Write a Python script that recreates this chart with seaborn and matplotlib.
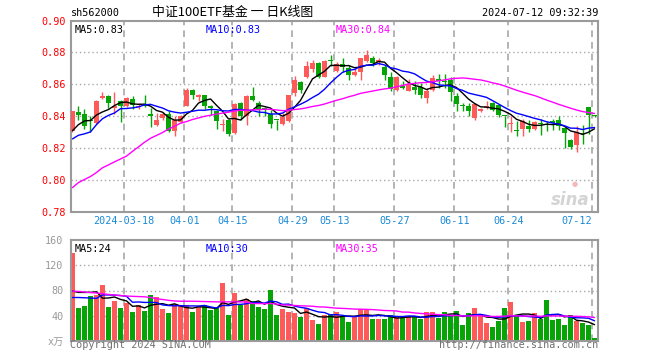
import numpy as np
import pandas as pd
import matplotlib
matplotlib.use("Agg")
import matplotlib.pyplot as plt
import seaborn as sns

# ---------------- data ----------------
open_ = [0.8308, 0.8425, 0.8413, 0.8375, 0.8354, 0.8510, 0.8527, 0.8450, 0.8492, 0.8463,
         0.8508, 0.8454, 0.8467, 0.8415, 0.8346, 0.8388, 0.8415, 0.8304, 0.8363, 0.8465,
         0.8565, 0.8517, 0.8533, 0.8460, 0.8429, 0.8344, 0.8377, 0.8296, 0.8483, 0.8398,
         0.8527, 0.8481, 0.8450, 0.8415, 0.8377, 0.8350, 0.8367, 0.8544, 0.8613, 0.8644,
         0.8696, 0.8731, 0.8646, 0.8748, 0.8683, 0.8727, 0.8704, 0.8658, 0.8679, 0.8746,
         0.8767, 0.8738, 0.8710, 0.8644, 0.8565, 0.8588, 0.8560, 0.8585, 0.8581, 0.8513,
         0.8565, 0.8633, 0.8623, 0.8627, 0.8527, 0.8467, 0.8465, 0.8388, 0.8429, 0.8450,
         0.8481, 0.8467, 0.8402, 0.8348, 0.8313, 0.8319, 0.8335, 0.8319, 0.8354, 0.8350,
         0.8369, 0.8373, 0.8325, 0.8252, 0.8217, 0.8290, 0.8458, 0.8404]
high = [0.8433, 0.8465, 0.8446, 0.8398, 0.8500, 0.8548, 0.8533, 0.8548, 0.8502, 0.8519,
        0.8523, 0.8481, 0.8529, 0.8450, 0.8419, 0.8423, 0.8429, 0.8402, 0.8408, 0.8579,
        0.8569, 0.8538, 0.8535, 0.8471, 0.8438, 0.8383, 0.8383, 0.8479, 0.8488, 0.8533,
        0.8583, 0.8492, 0.8458, 0.8440, 0.8377, 0.8417, 0.8533, 0.8654, 0.8621, 0.8748,
        0.8752, 0.8742, 0.8752, 0.8783, 0.8742, 0.8763, 0.8721, 0.8700, 0.8767, 0.8815,
        0.8777, 0.8763, 0.8721, 0.8675, 0.8650, 0.8621, 0.8631, 0.8621, 0.8610, 0.8579,
        0.8658, 0.8663, 0.8663, 0.8642, 0.8544, 0.8481, 0.8481, 0.8481, 0.8450, 0.8496,
        0.8488, 0.8475, 0.8402, 0.8402, 0.8367, 0.8383, 0.8377, 0.8367, 0.8383, 0.8371,
        0.8383, 0.8398, 0.8329, 0.8256, 0.8335, 0.8346, 0.8458, 0.8408]
low = [0.8300, 0.8377, 0.8321, 0.8298, 0.8350, 0.8506, 0.8450, 0.8414, 0.8360, 0.8454,
       0.8446, 0.8446, 0.8454, 0.8329, 0.8338, 0.8377, 0.8300, 0.8273, 0.8356, 0.8460,
       0.8506, 0.8492, 0.8444, 0.8408, 0.8321, 0.8308, 0.8273, 0.8288, 0.8377, 0.8346,
       0.8492, 0.8402, 0.8398, 0.8325, 0.8313, 0.8346, 0.8360, 0.8527, 0.8544, 0.8638,
       0.8679, 0.8638, 0.8642, 0.8717, 0.8679, 0.8679, 0.8629, 0.8654, 0.8627, 0.8742,
       0.8717, 0.8721, 0.8629, 0.8554, 0.8558, 0.8571, 0.8554, 0.8538, 0.8513, 0.8479,
       0.8558, 0.8575, 0.8579, 0.8492, 0.8429, 0.8429, 0.8398, 0.8373, 0.8423, 0.8446,
       0.8429, 0.8392, 0.8329, 0.8300, 0.8273, 0.8273, 0.8300, 0.8313, 0.8279, 0.8308,
       0.8310, 0.8315, 0.8200, 0.8192, 0.8175, 0.8221, 0.8288, 0.8396]
close = [0.8429, 0.8404, 0.8335, 0.8367, 0.8496, 0.8527, 0.8479, 0.8460, 0.8460, 0.8513,
         0.8469, 0.8465, 0.8465, 0.8398, 0.8377, 0.8415, 0.8304, 0.8377, 0.8402, 0.8565,
         0.8529, 0.8533, 0.8460, 0.8448, 0.8366, 0.8346, 0.8288, 0.8475, 0.8398, 0.8527,
         0.8498, 0.8440, 0.8435, 0.8350, 0.8373, 0.8396, 0.8529, 0.8627, 0.8565, 0.8715,
         0.8731, 0.8648, 0.8746, 0.8746, 0.8725, 0.8710, 0.8658, 0.8679, 0.8763, 0.8783,
         0.8735, 0.8752, 0.8658, 0.8571, 0.8646, 0.8575, 0.8602, 0.8565, 0.8529, 0.8560,
         0.8638, 0.8617, 0.8613, 0.8548, 0.8477, 0.8465, 0.8429, 0.8475, 0.8444, 0.8465,
         0.8435, 0.8404, 0.8400, 0.8350, 0.8308, 0.8367, 0.8317, 0.8363, 0.8352, 0.8344,
         0.8354, 0.8335, 0.8294, 0.8204, 0.8300, 0.8288, 0.8404, 0.8402]
volume = [139.3, 51.9, 55.1, 71.0, 72.6, 88.5, 53.5, 63.0, 51.9, 60.9,
          45.6, 56.7, 47.1, 72.6, 69.4, 50.3, 44.0, 58.3, 55.1, 56.7,
          45.6, 55.1, 56.7, 48.7, 51.9, 91.6, 40.8, 75.7, 57.7, 66.2,
          64.1, 53.5, 50.3, 80.5, 40.8, 50.3, 45.6, 44.0, 37.6, 51.9,
          32.8, 26.5, 40.8, 42.4, 45.6, 39.2, 29.7, 39.2, 50.3, 48.7,
          34.4, 34.4, 34.4, 40.8, 37.6, 37.6, 39.2, 37.6, 34.4, 45.6,
          45.6, 36.0, 45.6, 40.8, 47.1, 24.9, 44.0, 51.9, 40.8, 28.1,
          21.7, 31.3, 51.9, 61.4, 39.2, 29.7, 31.3, 44.0, 34.4, 64.6,
          32.8, 34.4, 24.9, 40.8, 31.3, 28.1, 24.9, 4.2]

ma5_head = [0.8308, 0.8346, 0.8369, 0.8372]
ma10_head = [0.8256, 0.8279, 0.8288, 0.8300, 0.8346, 0.8383, 0.8404, 0.8419, 0.8446]
ma30_head = [0.7950, 0.7982, 0.8001, 0.8020, 0.8045, 0.8075, 0.8093, 0.8112, 0.8130, 0.8148,
             0.8178, 0.8206, 0.8235, 0.8260, 0.8278, 0.8296, 0.8318, 0.8335, 0.8355, 0.8365,
             0.8378, 0.8388, 0.8398, 0.8405, 0.8412, 0.8418, 0.8424, 0.8432, 0.8436]
vma5_head = [79.0, 77.0, 77.0, 77.0]
vma10_head = [68.9, 68.9, 68.5, 68.0, 67.5, 73.0, 73.0, 72.6, 72.0]
vma30_head = [78.9, 78.5, 77.6, 76.8, 76.0, 75.0, 73.8, 72.8, 72.0, 71.2,
              70.8, 70.4, 70.0, 69.0, 67.0, 65.8, 64.4, 63.4, 63.0, 63.0,
              63.0, 62.8, 62.5, 62.3, 62.0, 62.0, 62.0, 62.0, 62.0]

tick_index = [9, 19, 27, 37, 44, 54, 64, 73, 87]
tick_labels = ["2024-03-18", "04-01", "04-15", "04-29", "05-13", "05-27", "06-11", "06-24", "07-12"]
price_ticks = [0.78, 0.80, 0.82, 0.84, 0.86, 0.88, 0.90]
vol_ticks = [0, 40, 80, 120, 160]
vol_tick_labels = ["x万", "40", "80", "120", "160"]

title = "中证100ETF基金 一 日K线图"
code = "sh562000"
stamp = "2024-07-12 09:32:39"
price_ma_text = ["MA5:0.83", "MA10:0.83", "MA30:0.84"]
vol_ma_text = ["MA5:24", "MA10:30", "MA30:35"]

# ---------------- build frame ----------------
n = len(close)
df = pd.DataFrame({"idx": np.arange(n), "open": open_, "high": high, "low": low,
                   "close": close, "vol": volume})
df["dir"] = np.where(df["close"] >= df["open"], "up", "down")


def with_head(series, w, head):
    m = series.rolling(w).mean().to_numpy()
    m[:w - 1] = head
    return m


df["ma5"] = with_head(df["close"], 5, ma5_head)
df["ma10"] = with_head(df["close"], 10, ma10_head)
df["ma30"] = with_head(df["close"], 30, ma30_head)
df["vma5"] = with_head(df["vol"], 5, vma5_head)
df["vma10"] = with_head(df["vol"], 10, vma10_head)
df["vma30"] = with_head(df["vol"], 30, vma30_head)

RED = "#ff5a5a"
GREEN = "#06a406"
GRID = "#a8a8a8"
SPINE = "#9a9a9a"
palette = {"up": RED, "down": GREEN}

sns.set_theme(style="white")
plt.rcParams["font.family"] = ["DejaVu Sans Mono", "Noto Sans CJK SC"]
MONO = ["DejaVu Sans Mono", "Noto Sans CJK SC"]
FS = 7.3

fig = plt.figure(figsize=(6.6, 3.6), dpi=100)
W, H = 660.0, 360.0
L, R = 70.5, 598.0
ax1 = fig.add_axes([L / W, 1 - 211.5 / H, (R - L) / W, (211.5 - 20.5) / H])
ax2 = fig.add_axes([L / W, 1 - 341.0 / H, (R - L) / W, (341.0 - 240.0) / H])

xlim = (-0.333, 87.58)
gx = [t - 0.37 for t in tick_index]

# ---------------- price panel ----------------
ax1.set_xlim(*xlim)
ax1.set_ylim(0.78, 0.90)
for y in price_ticks[1:-1]:
    ax1.axhline(y, color=GRID, lw=1, ls=(0, (1, 2)), zorder=0)
for x in gx:
    ax1.axvline(x, color=GRID, lw=1.2, ls=(0, (4, 3)), zorder=0)

colors = [palette[d] for d in df["dir"]]
ax1.vlines(df["idx"], df["low"], df["high"], colors=colors, lw=1, zorder=2)
body_lo = np.minimum(df["open"], df["close"])
body_h = np.maximum(np.abs(df["close"] - df["open"]), 0.0007)
ax1.bar(df["idx"], body_h, bottom=body_lo, width=0.8, color=colors, lw=0, zorder=3)

sns.lineplot(data=df, x="idx", y="ma5", ax=ax1, color="black", lw=1, zorder=4)
sns.lineplot(data=df, x="idx", y="ma10", ax=ax1, color="#0000ff", lw=1, zorder=4)
sns.lineplot(data=df, x="idx", y="ma30", ax=ax1, color="#ff00ff", lw=1, zorder=4)

ax1.set_yticks(price_ticks)
ax1.set_yticklabels([f"{v:.2f}" for v in price_ticks], color="#ff0000", fontsize=FS, family=MONO)
ax1.set_xticks(gx)
ax1.set_xticklabels(tick_labels, color="#1a8ad6", fontsize=FS, family=MONO)
ax1.get_xticklabels()[-1].set_horizontalalignment("right")
ax1.tick_params(axis="both", length=0, pad=3)
ax1.set_xlabel("")
ax1.set_ylabel("")
for s in ax1.spines.values():
    s.set_color(SPINE)
    s.set_linewidth(1.5)

ax1.text(0.008, 0.975, price_ma_text[0], transform=ax1.transAxes, color="black",
         fontsize=FS, family=MONO, va="top", ha="left")
ax1.text((206 - L) / (R - L), 0.975, price_ma_text[1], transform=ax1.transAxes, color="#0000ff",
         fontsize=FS, family=MONO, va="top", ha="left")
ax1.text((336 - L) / (R - L), 0.975, price_ma_text[2], transform=ax1.transAxes, color="#ff00ff",
         fontsize=FS, family=MONO, va="top", ha="left")

# watermark
ax1.text(0.985, 0.012, "sina", transform=ax1.transAxes, color="#d4d4d4", fontsize=12,
         fontstyle="italic", fontweight="bold", family="DejaVu Sans", ha="right", va="bottom",
         zorder=1)
ax1.text(0.955, 0.145, "●", transform=ax1.transAxes, color="#f3b8b8", fontsize=5,
         family="DejaVu Sans", ha="center", va="center", zorder=1)

# ---------------- volume panel ----------------
sns.barplot(data=df, x="idx", y="vol", hue="dir", palette=palette, dodge=False,
            native_scale=True, width=0.8, saturation=1, legend=False, ax=ax2,
            linewidth=0, zorder=2)
sns.lineplot(data=df, x="idx", y="vma5", ax=ax2, color="black", lw=1, zorder=4)
sns.lineplot(data=df, x="idx", y="vma10", ax=ax2, color="#0000ff", lw=1, zorder=4)
sns.lineplot(data=df, x="idx", y="vma30", ax=ax2, color="#ff00ff", lw=1, zorder=4)
ax2.set_xlim(*xlim)
ax2.set_ylim(0, 160)
for y in vol_ticks[1:-1]:
    ax2.axhline(y, color=GRID, lw=1, ls=(0, (1, 2)), zorder=0)
for x in gx:
    ax2.axvline(x, color=GRID, lw=1.2, ls=(0, (4, 3)), zorder=0)
ax2.set_yticks(vol_ticks)
ax2.set_yticklabels(vol_tick_labels, color="#999999", fontsize=FS, family=MONO)
ax2.set_xticks([])
ax2.tick_params(axis="both", length=0, pad=5)
ax2.set_xlabel("")
ax2.set_ylabel("")
for s in ax2.spines.values():
    s.set_color(SPINE)
    s.set_linewidth(1.5)

ax2.text(0.008, 0.96, vol_ma_text[0], transform=ax2.transAxes, color="black",
         fontsize=FS, family=MONO, va="top", ha="left")
ax2.text((206 - L) / (R - L), 0.96, vol_ma_text[1], transform=ax2.transAxes, color="#0000ff",
         fontsize=FS, family=MONO, va="top", ha="left")
ax2.text((336 - L) / (R - L), 0.96, vol_ma_text[2], transform=ax2.transAxes, color="#ff00ff",
         fontsize=FS, family=MONO, va="top", ha="left")

# ---------------- header / footer ----------------
fig.text(L / W, 1 - 13 / H, code, color="black", fontsize=FS, family=MONO, ha="left", va="center")
fig.text(233 / W, 1 - 12.5 / H, title, color="black", fontsize=9.3,
         family=["Noto Sans CJK SC", "DejaVu Sans"], ha="center", va="center")
fig.text(R / W, 1 - 13 / H, stamp, color="black", fontsize=FS, family=MONO, ha="right", va="center")
fig.text(L / W, 1 - 345.5 / H, "Copyright 2024 SINA.COM", color="#707070", fontsize=FS,
         family=MONO, ha="left", va="center")
fig.text(R / W, 1 - 345.5 / H, "http://finance.sina.com.cn", color="#707070", fontsize=FS,
         family=MONO, ha="right", va="center")

fig.savefig("out.png", dpi=100, facecolor="white")
